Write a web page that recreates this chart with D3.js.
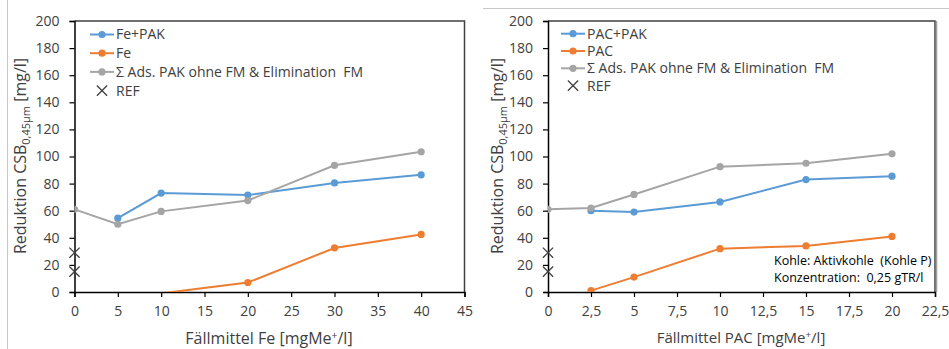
<!DOCTYPE html>
<html><head><meta charset="utf-8">
<script src="https://cdn.jsdelivr.net/npm/d3@7"></script>
<style>body{margin:0;background:#fff;}svg{display:block;font-family:"Open Sans",sans-serif;}</style>
</head><body>
<svg id="c" width="949" height="349"></svg>
<script>
// ---- Data ----
const feX = [0, 5, 10, 15, 20, 25, 30, 35, 40, 45];
const feFePAK = [[5, 54.5], [10, 73], [20, 71.5], [30, 80.5], [40, 86.5]];
const feFe = [[10, -1], [20, 7], [30, 32.5], [40, 42.5]];
const feSum = [[0, 61], [5, 50], [10, 59.5], [20, 67.5], [30, 93.5], [40, 103.5]];
const feRef = [[0, 29], [0, 15]];

const pacX = [0, 2.5, 5, 7.5, 10, 12.5, 15, 17.5, 20, 22.5];
const pacPACPAK = [[2.5, 60], [5, 59], [10, 66.5], [15, 83], [20, 85.5]];
const pacPAC = [[2.5, 1], [5, 11], [10, 32], [15, 34], [20, 41]];
const pacSum = [[0, 61], [2.5, 62], [5, 72], [10, 92.5], [15, 95], [20, 102]];
const pacRef = [[0, 29], [0, 15]];

const yTicks = [0, 20, 40, 60, 80, 100, 120, 140, 160, 180, 200];
const legendFe = ["Fe+PAK", "Fe", "Σ Ads. PAK ohne FM & Elimination  FM", "REF"];
const legendPac = ["PAC+PAK", "PAC", "Σ Ads. PAK ohne FM & Elimination  FM", "REF"];
const colors = ["#5B9BD5", "#ED7D31", "#A5A5A5", "#404040"];

const svg = d3.select("#c");
// chart area borders
svg.append("line").attr("x1", 7.5).attr("x2", 7.5).attr("y1", 0).attr("y2", 349).attr("stroke", "#c8c8c8");
svg.append("line").attr("x1", 483).attr("x2", 949).attr("y1", 8.5).attr("y2", 8.5).attr("stroke", "#c8c8c8");

function panel(cfg) {
  const x = d3.scaleLinear().domain([0, cfg.xmax]).range([cfg.x0, cfg.x1]);
  const y = d3.scaleLinear().domain([0, 200]).range([292, 21]);
  const g = svg.append("g");
  const id = "clip" + cfg.name;
  svg.append("clipPath").attr("id", id).append("rect")
    .attr("x", cfg.x0).attr("y", y(200)).attr("width", cfg.x1 - cfg.x0).attr("height", y(0) - y(200));

  // frame top + right
  g.append("path").attr("d", `M${cfg.x0},${y(200)}H${cfg.x1}V${y(0)}`)
    .attr("fill", "none").attr("stroke", "#404040").attr("stroke-width", 1.5);
  if (cfg.shadow) {
    g.append("line").attr("x1", cfg.x1 + 1.5).attr("x2", cfg.x1 + 1.5).attr("y1", y(200)).attr("y2", y(0))
      .attr("stroke", "#a0a0a0").attr("stroke-width", 1.5);
  }

  // axes
  const ya = d3.axisLeft(y).tickValues(yTicks).tickSize(5).tickPadding(10).tickFormat(d3.format("d"));
  const yg = g.append("g").attr("transform", `translate(${cfg.x0},0)`).call(ya);
  const xa = d3.axisBottom(x).tickValues(cfg.xticks).tickSize(5).tickPadding(9)
    .tickFormat(d => String(d).replace(".", ","));
  const xg = g.append("g").attr("transform", `translate(0,${y(0)})`).call(xa);
  [yg, xg].forEach(a => {
    a.select(".domain").attr("stroke", "#000").attr("stroke-width", 1.5);
    a.selectAll(".tick line").attr("stroke", "#000").attr("stroke-width", 1.2);
    a.selectAll("text").attr("font-size", 14).attr("fill", "#404040").attr("font-family", "Open Sans");
  });

  const pg = g.append("g").attr("clip-path", `url(#${id})`);
  const line = d3.line().x(d => x(d[0])).y(d => y(d[1]));
  cfg.series.forEach((s, i) => {
    pg.append("path").datum(s).attr("d", line).attr("fill", "none")
      .attr("stroke", colors[i]).attr("stroke-width", 2);
    pg.selectAll(null).data(s.filter(d => d[1] >= 0)).enter().append("circle")
      .attr("cx", d => x(d[0])).attr("cy", d => y(d[1])).attr("r", 3.6).attr("fill", colors[i]);
  });
  // REF crosses
  const cross = d3.symbol().type(d3.symbolX).size(70);
  g.selectAll(null).data(cfg.ref).enter().append("path")
    .attr("d", cross).attr("transform", d => `translate(${x(d[0])},${y(d[1])})`)
    .attr("fill", "none").attr("stroke", colors[3]).attr("stroke-width", 1.3);

  // legend
  const lg = g.append("g");
  cfg.legend.forEach((t, i) => {
    const ly = cfg.ly0 + i * cfg.ldy;
    if (i < 3) {
      lg.append("line").attr("x1", cfg.lx).attr("x2", cfg.lx + 24).attr("y1", ly).attr("y2", ly)
        .attr("stroke", colors[i]).attr("stroke-width", 2);
      lg.append("circle").attr("cx", cfg.lx + 12).attr("cy", ly).attr("r", 3.6).attr("fill", colors[i]);
    } else {
      lg.append("path").attr("d", cross).attr("transform", `translate(${cfg.lx + 12},${ly})`)
        .attr("fill", "none").attr("stroke", colors[3]).attr("stroke-width", 1.3);
    }
    lg.append("text").attr("x", cfg.lx + 26).attr("y", ly).attr("dy", "0.35em")
      .attr("font-size", 14).attr("fill", "#404040").style("white-space", "pre").text(t);
  });

  // x title
  const xt = g.append("text").attr("x", cfg.xtx).attr("y", 338).attr("dy", "0.35em")
    .attr("text-anchor", "middle").attr("font-size", cfg.xtSize).attr("fill", "#404040");
  xt.append("tspan").text(cfg.xtitle);
  xt.append("tspan").attr("dy", -5).attr("font-size", cfg.xtSize * 0.65).text("+");
  xt.append("tspan").attr("dy", 5).text("/l]");

  // y title
  const yt = g.append("text").attr("transform", `translate(${cfg.ytx},156) rotate(-90)`)
    .attr("text-anchor", "middle").attr("y", 6).attr("font-size", 16).attr("fill", "#404040");
  yt.append("tspan").text("Reduktion CSB");
  yt.append("tspan").attr("dy", 4).attr("font-size", 11).text("0,45µm");
  yt.append("tspan").attr("dy", -4).text(" [mg/l]");

  if (cfg.note) {
    cfg.note.forEach((t, i) => {
      g.append("text").attr("x", 774).attr("y", 261 + i * 17).attr("dy", "0.35em")
        .attr("font-size", 12.5).attr("fill", "#000").style("white-space", "pre").text(t);
    });
  }
}

panel({name: "fe", xmax: 45, x0: 74.5, x1: 464.5, xticks: feX,
  series: [feFePAK, feFe, feSum], ref: feRef, legend: legendFe,
  lx: 90, ly0: 34.5, ldy: 18.7, xtitle: "Fällmittel Fe [mgMe", xtx: 269, xtSize: 16, ytx: 20});
panel({name: "pac", xmax: 22.5, x0: 548, x1: 935, xticks: pacX, shadow: true,
  series: [pacPACPAK, pacPAC, pacSum], ref: pacRef, legend: legendPac,
  lx: 561, ly0: 33.7, ldy: 17.3, xtitle: "Fällmittel PAC [mgMe", xtx: 741, xtSize: 15, ytx: 497,
  note: ["Kohle: Aktivkohle  (Kohle P)", "Konzentration:  0,25 gTR/l"]});
</script>
</body></html>
